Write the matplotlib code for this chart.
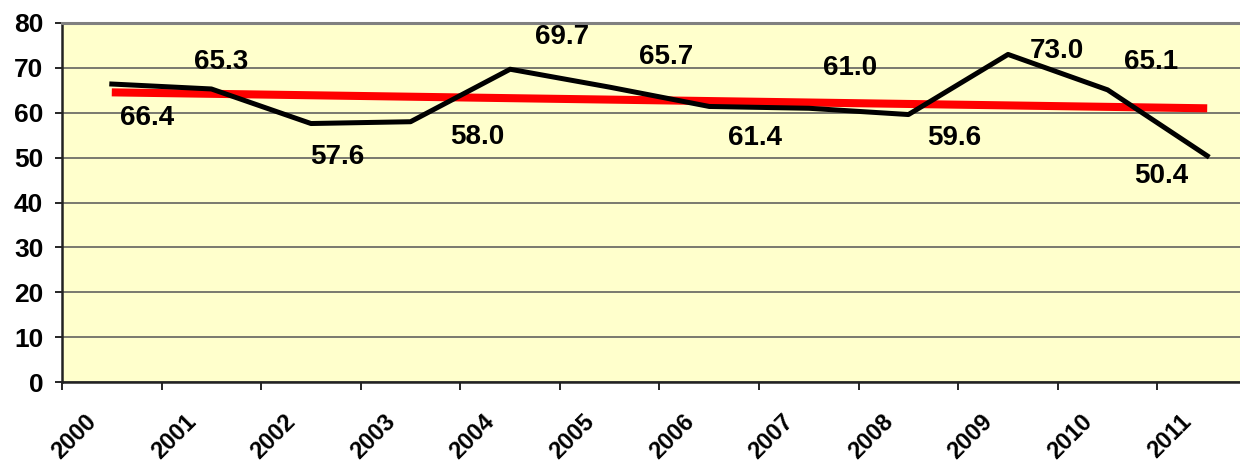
import numpy as np
import matplotlib.pyplot as plt
from matplotlib.transforms import ScaledTranslation

years = ['2000', '2001', '2002', '2003', '2004', '2005',
         '2006', '2007', '2008', '2009', '2010', '2011']
values = [66.4, 65.3, 57.6, 58.0, 69.7, 65.7, 61.4, 61.0, 59.6, 73.0, 65.1, 50.4]

# label offsets in pixels (dx right, dy up) relative to each point
label_off = [(35, -34), (10, 27), (26, -33), (67, -15), (52, 32), (56, 30),
             (46, -32), (41, 40), (46, -23), (49, 3), (43, 28), (-46, -20)]

plt.rcParams['font.family'] = ['Liberation Sans', 'DejaVu Sans']
plt.rcParams['font.weight'] = 'bold'

W, H = 1240, 466
fig = plt.figure(figsize=(W / 100, H / 100), dpi=100)
# plot area: left 62px, right 1257px (clipped), top 23px, bottom 382px
ax = fig.add_axes([62 / W, 1 - 382 / H, (1257 - 62) / W, (382 - 23) / H])
ax.set_facecolor('#FFFFCC')

x = np.arange(len(years))
ax.set_xlim(-0.5, len(years) - 0.5)
ax.set_ylim(0, 80)

ax.yaxis.grid(True, color='#555555', lw=1.1)
ax.set_axisbelow(True)

# linear trend (Excel-style trendline)
k, b = np.polyfit(x, values, 1)
ax.plot(x, k * x + b, color='#FF0000', lw=5.8, solid_capstyle='butt', zorder=3)
ax.plot(x, values, color='black', lw=3.6, zorder=4)

for xi, v, (dx, dy) in zip(x, values, label_off):
    ax.annotate(f'{v:.1f}', (xi, v), xytext=(dx * 0.72, dy * 0.72),
                textcoords='offset points', ha='center', va='center',
                fontsize=20, fontweight='bold', zorder=5)

ax.set_yticks(range(0, 81, 10))
ax.tick_params(axis='y', length=5, width=1.2, pad=8.5, labelsize=19)

ax.set_xticks(np.arange(-0.5, len(years), 1), minor=True)
ax.set_xticks(x)
ax.set_xticklabels(years, rotation=45, ha='right', va='center',
                   rotation_mode='anchor', fontsize=17, fontweight='bold')
ax.tick_params(axis='x', which='major', length=0, pad=26)
ax.tick_params(axis='x', which='minor', length=6, width=1.2)
for lab in ax.get_xticklabels():
    lab.set_transform(lab.get_transform() + ScaledTranslation(-19 / 100, 0, fig.dpi_scale_trans))

for s in ['left', 'bottom']:
    ax.spines[s].set_color('#222222')
    ax.spines[s].set_linewidth(1.8)
ax.spines['top'].set_color('#808080')
ax.spines['top'].set_linewidth(2.2)
ax.spines['right'].set_visible(False)

fig.savefig('out.png', dpi=100)
